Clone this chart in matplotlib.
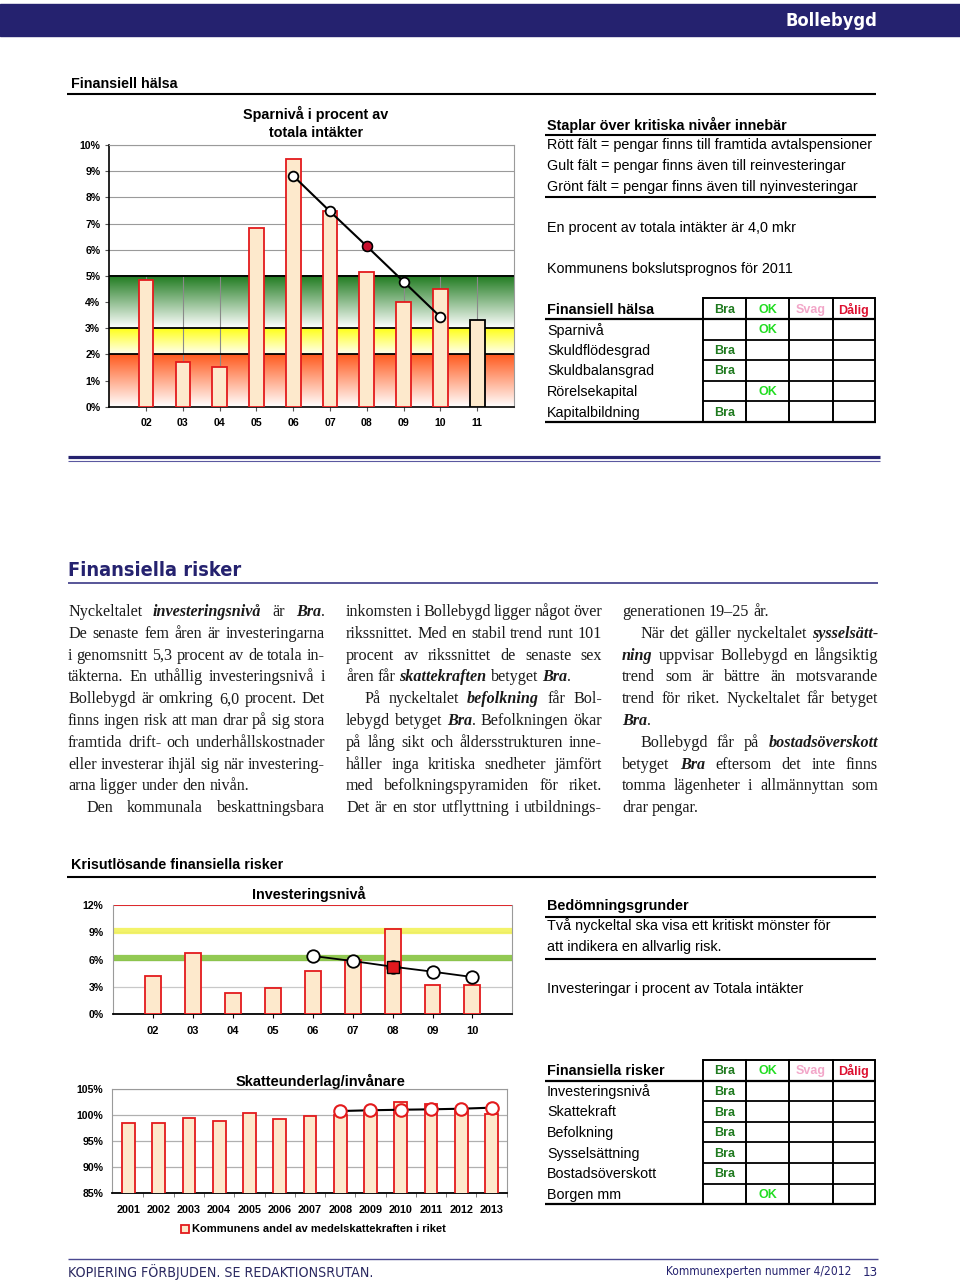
import numpy as np
import matplotlib
matplotlib.use('Agg')
import matplotlib.pyplot as plt
from matplotlib import font_manager
from matplotlib.colors import to_rgb
from matplotlib.patches import Rectangle

# Sparnivå i procent av totala intäkter
spar_years = ['02', '03', '04', '05', '06', '07', '08', '09', '10', '11']
spar_values = [4.85, 1.70, 1.53, 6.83, 9.48, 7.48, 5.14, 4.01, 4.48, 3.33]
spar_trend_years = ['06', '07', '08', '09', '10']
spar_trend = [8.82, 7.46, 6.13, 4.78, 3.43]
spar_highlight = '08'
spar_forecast = '11'
spar_levels = [0, 2, 3, 5]          # röd / gul / grön zon

# Investeringsnivå
inv_years = ['02', '03', '04', '05', '06', '07', '08', '09', '10']
inv_values = [4.18, 6.72, 2.31, 2.90, 4.77, 5.94, 9.32, 3.16, 3.16]
inv_trend_years = ['06', '07', '08', '09', '10']
inv_trend = [6.39, 5.83, 5.21, 4.66, 4.07]
inv_highlight = '08'
inv_limits = [12.0, 9.1, 6.15]     # röd, gul, grön nivå

# Skatteunderlag/invånare
skatt_years = ['2001', '2002', '2003', '2004', '2005', '2006', '2007',
               '2008', '2009', '2010', '2011', '2012', '2013']
skatt_values = [98.38, 98.40, 99.34, 98.90, 100.43, 99.20, 99.80,
                99.90, 100.30, 102.40, 102.10, 101.10, 100.20]
skatt_trend_years = ['2008', '2009', '2010', '2011', '2012', '2013']
skatt_trend = [100.75, 100.90, 101.00, 101.08, 101.20, 101.40]

# Betygstabeller
grade_labels = ['Bra', 'OK', 'Svag', 'Dålig']
grade_colors = ['#1f7a1f', '#22dd22', '#f2a6c8', '#dd1030']
halsa_items = ['Sparnivå', 'Skuldflödesgrad', 'Skuldbalansgrad', 'Rörelsekapital', 'Kapitalbildning']
halsa_grades = ['OK', 'Bra', 'Bra', 'OK', 'Bra']
risk_items = ['Investeringsnivå', 'Skattekraft', 'Befolkning', 'Sysselsättning', 'Bostadsöverskott', 'Borgen mm']
risk_grades = ['Bra', 'Bra', 'Bra', 'Bra', 'Bra', 'OK']

# Brödtext (*...* = fet kursiv, > = indrag, | = styckeslut)
col1 = [
    'Nyckeltalet *investeringsnivå* är *Bra*.',
    'De senaste fem åren är investeringarna',
    'i genomsnitt 5,3 procent av de totala in-',
    'täkterna. En uthållig investeringsnivå i',
    'Bollebygd är omkring 6,0 procent. Det',
    'finns ingen risk att man drar på sig stora',
    'framtida drift- och underhållskostnader',
    'eller investerar ihjäl sig när investering-',
    'arna ligger under den nivån.|',
    '>Den kommunala beskattningsbara',
]
col2 = [
    'inkomsten i Bollebygd ligger något över',
    'rikssnittet. Med en stabil trend runt 101',
    'procent av rikssnittet de senaste sex',
    'åren får *skattekraften* betyget *Bra*.|',
    '>På nyckeltalet *befolkning* får Bol-',
    'lebygd betyget *Bra*. Befolkningen ökar',
    'på lång sikt och åldersstrukturen inne-',
    'håller inga kritiska snedheter jämfört',
    'med befolkningspyramiden för riket.',
    'Det är en stor utflyttning i utbildnings-',
]
col3 = [
    'generationen 19–25 år.|',
    '>När det gäller nyckeltalet *sysselsätt-*',
    '*ning* uppvisar Bollebygd en långsiktig',
    'trend som är bättre än motsvarande',
    'trend för riket. Nyckeltalet får betyget',
    '*Bra*.|',
    '>Bollebygd får på *bostadsöverskott*',
    'betyget *Bra* eftersom det inte finns',
    'tomma lägenheter i allmännyttan som',
    'drar pengar.|',
]

NAVY = '#25226f'
BAR_FILL = '#fde9cc'
BAR_EDGE = '#e31a1c'
SANS = 'Liberation Sans'
SERIF = 'Liberation Serif'

# smal rubrikfont om någon finns installerad
COND = None
for f in font_manager.fontManager.ttflist:
    if 'Narrow' in f.name or 'Condensed' in f.name:
        COND = dict(family=f.name)
        break
    if f.stretch in ('condensed', 'semi-condensed', 'extra-condensed'):
        COND = dict(family=f.name, stretch=f.stretch)
        break
if COND is None:
    COND = dict(family=SANS)

fig = plt.figure(figsize=(9.6, 12.82), dpi=100)
page = fig.add_axes([0, 0, 1, 1])
page.set_xlim(0, 960)
page.set_ylim(1282, 0)
page.axis('off')
renderer = fig.canvas.get_renderer()


def px_axes(x0, y0, x1, y1):
    return fig.add_axes([x0 / 960, 1 - y1 / 1282, (x1 - x0) / 960, (y1 - y0) / 1282])


def hline(y, x0, x1, lw=1.2, color='black'):
    page.plot([x0, x1], [y, y], color=color, lw=lw, solid_capstyle='butt')


def ptext(x, y, s, size=10.4, weight='normal', color='black', ha='left', va='center', **kw):
    kw.setdefault('family', SANS)
    return page.text(x, y, s, fontsize=size, fontweight=weight, color=color, ha=ha, va=va, **kw)


def fit_text(x, y, s, width, size, ha='left', **kw):
    # krymp rubriken tills den har samma bredd som i förlagan
    t = ptext(x, y, s, size=size, ha=ha, **kw)
    w = t.get_window_extent(renderer).width
    if w > width:
        t.set_fontsize(size * width / w)
    return t


def vgrad(ax, x0, x1, y0, y1, c_bottom, c_top, z=1):
    a = np.array(to_rgb(c_bottom))
    b = np.array(to_rgb(c_top))
    t = np.linspace(0, 1, 80)[:, None]
    img = (a + (b - a) * t)[:, None, :]
    ax.imshow(img, extent=(x0, x1, y0, y1), origin='lower', aspect='auto',
              zorder=z, interpolation='bilinear')


def grade_table(top, title, items, grades):
    cols = [702.7, 746, 789, 832.7, 875]
    rh = 20.6
    n = len(items) + 1
    bottom = top + n * rh
    hline(top, cols[0], cols[-1], lw=1.4)
    hline(top + rh, 545, 876, lw=1.6)
    for i in range(2, n):
        hline(top + i * rh, cols[0], cols[-1], lw=1.3)
    hline(bottom, 545, 876, lw=1.6)
    for c in cols:
        page.plot([c, c], [top, bottom], color='black', lw=1.4)
    ptext(547, top + rh / 2 + 1, title, size=10.4, weight='bold')
    for j, g in enumerate(grade_labels):
        ptext((cols[j] + cols[j + 1]) / 2, top + rh / 2 + 1, g, size=9, weight='bold',
              color=grade_colors[j], ha='center')
    for i, (item, g) in enumerate(zip(items, grades)):
        y = top + (i + 1.5) * rh + 1
        ptext(547, y, item, size=10.3)
        j = grade_labels.index(g)
        ptext((cols[j] + cols[j + 1]) / 2, y, g, size=9, weight='bold',
              color=grade_colors[j], ha='center')


def rich_line(x0, x1, y, line, size):
    justify = not line.endswith('|')
    line = line.rstrip('|')
    if line.startswith('>'):
        x0 += 18
        line = line[1:]
    words = []
    for word in line.split():
        segs = []
        for k, part in enumerate(word.split('*')):
            if part:
                t = page.text(0, y, part, fontsize=size, family=SERIF,
                              style='italic' if k % 2 else 'normal',
                              fontweight='bold' if k % 2 else 'normal',
                              va='baseline', ha='left', color='#1a1a1a')
                segs.append((t, t.get_window_extent(renderer).width))
        words.append(segs)
    widths = [sum(w for _, w in segs) for segs in words]
    gap = size * 100 / 72 * 0.25
    if justify and len(words) > 1:
        gap = (x1 - x0 - sum(widths)) / (len(words) - 1)
    x = x0
    for segs in words:
        for t, w in segs:
            t.set_x(x)
            x += w
        x += gap


# ---------------- sidhuvud ----------------
page.add_patch(Rectangle((0, 4), 960, 32, color=NAVY, zorder=0))
fit_text(877, 21, 'Bollebygd', 92, 15, weight='bold', color='white', ha='right', **COND)

# ---------------- Finansiell hälsa ----------------
ptext(71, 84, 'Finansiell hälsa', size=10.3, weight='bold')
hline(93.5, 67, 876, lw=1.5)

ax1 = px_axes(109.3, 145, 514, 406.7)
edges = ['black' if y == spar_forecast else BAR_EDGE for y in spar_years]
ax1.bar(spar_years, spar_values, width=0.4, color=BAR_FILL, edgecolor=edges, linewidth=1.3, zorder=3)
nx = len(spar_years)
vgrad(ax1, -1, nx, spar_levels[0], spar_levels[1], '#ffffff', '#ff5a1e')
vgrad(ax1, -1, nx, spar_levels[1], spar_levels[2], '#fffff0', '#ffff10')
vgrad(ax1, -1, nx, spar_levels[2], spar_levels[3], '#ffffff', '#1e7a1e')
ax1.vlines(np.arange(nx), 0, spar_levels[-1], color='#8a8a8a', lw=0.8, zorder=1.5)
for lv in spar_levels[1:]:
    ax1.axhline(lv, color='black', lw=1.3, zorder=2)
ax1.plot(spar_trend_years, spar_trend, color='black', lw=1.5, marker='o', ms=7,
         mfc='white', mec='black', mew=1.3, zorder=5)
ax1.plot([spar_highlight], [spar_trend[spar_trend_years.index(spar_highlight)]], 'o', ms=7,
         mfc='#c8102e', mec='black', mew=1.0, zorder=6)
ax1.set_xlim(-1, nx)
ax1.set_ylim(0, 10)
ax1.set_yticks(np.arange(0, 11))
ax1.set_yticklabels([f'{v}%' for v in range(11)])
ax1.yaxis.grid(True, color='#9a9a9a', lw=0.8)
ax1.set_axisbelow(True)
ax1.tick_params(axis='y', length=3, pad=3.5, labelsize=7.6, color='#555555')
ax1.tick_params(axis='x', length=3, pad=5, labelsize=7.6, color='#555555')
for lab in ax1.get_xticklabels() + ax1.get_yticklabels():
    lab.set_fontweight('bold')
    lab.set_family(SANS)
for s in ['top', 'right']:
    ax1.spines[s].set_color('#9a9a9a')
    ax1.spines[s].set_linewidth(0.8)
for s in ['left', 'bottom']:
    ax1.spines[s].set_linewidth(1.2)
ptext(316, 114, 'Sparnivå i procent av', size=10.4, weight='bold', ha='center')
ptext(316, 133, 'totala intäkter', size=10.4, weight='bold', ha='center')

ptext(547, 125, 'Staplar över kritiska nivåer innebär', weight='bold')
hline(134.5, 545, 876, lw=1.5)
ptext(547, 145.5, 'Rött fält = pengar finns till framtida avtalspensioner')
ptext(547, 166, 'Gult fält = pengar finns även till reinvesteringar')
ptext(547, 186.5, 'Grönt fält = pengar finns även till nyinvesteringar')
hline(196.5, 545, 876, lw=1.5)
ptext(547, 228, 'En procent av totala intäkter är 4,0 mkr')
ptext(547, 268.5, 'Kommunens bokslutsprognos för 2011')
grade_table(298.3, 'Finansiell hälsa', halsa_items, halsa_grades)

# avdelare
hline(456.5, 68, 880, lw=2.3, color=NAVY)
hline(461, 68, 880, lw=0.8, color='#5a58a0')

# ---------------- Finansiella risker ----------------
fit_text(68, 570, 'Finansiella risker', 173, 17, weight='bold', color=NAVY, **COND)
hline(582.5, 68, 878, lw=1.3, color='#4a4890')

for col, (x0, x1) in zip([col1, col2, col3], [(68, 325), (346, 602), (622, 878)]):
    for i, line in enumerate(col):
        rich_line(x0, x1, 616 + 21.8 * i, line, 11.6)

# ---------------- Krisutlösande finansiella risker ----------------
ptext(71, 865, 'Krisutlösande finansiella risker', size=10.3, weight='bold')
hline(876.5, 67, 876, lw=1.5)

ax2 = px_axes(113.3, 905, 512.3, 1014)
ax2.bar(inv_years, inv_values, width=0.4, color=BAR_FILL, edgecolor=BAR_EDGE, linewidth=1.3, zorder=3)
ni = len(inv_years)
ax2.axhline(inv_limits[0], color='#e0191e', lw=1.3, zorder=2)
ax2.axhline(inv_limits[1], color='#f2f25a', lw=4.5, alpha=0.9, zorder=2)
ax2.axhline(inv_limits[2], color='#86c440', lw=4.5, alpha=0.9, zorder=2)
ax2.plot(inv_trend_years, inv_trend, color='black', lw=1.3, marker='o', ms=9,
         mfc='white', mec='black', mew=1.3, zorder=5)
ax2.plot([inv_highlight], [inv_trend[inv_trend_years.index(inv_highlight)]], 's', ms=8,
         mfc='#e0191e', mec='black', mew=1.0, zorder=6)
ax2.set_xlim(-1, ni)
ax2.set_ylim(0, 12)
ax2.set_yticks([0, 3, 6, 9, 12])
ax2.set_yticklabels(['0%', '3%', '6%', '9%', '12%'])
ax2.yaxis.grid(True, color='#c8c8c8', lw=0.9)
ax2.set_axisbelow(True)
ax2.tick_params(axis='y', length=0, pad=7, labelsize=7.6)
ax2.tick_params(axis='x', length=3, pad=6, labelsize=8)
for lab in ax2.get_xticklabels() + ax2.get_yticklabels():
    lab.set_fontweight('bold')
    lab.set_family(SANS)
ax2.spines['top'].set_visible(False)
for s in ['left', 'right']:
    ax2.spines[s].set_color('#9a9a9a')
    ax2.spines[s].set_linewidth(0.8)
ax2.spines['bottom'].set_linewidth(1.3)
ptext(309, 894, 'Investeringsnivå', size=10.4, weight='bold', ha='center')

ax3 = px_axes(111.7, 1089, 506.7, 1192.7)
ns = len(skatt_years)
ax3.bar(skatt_years, skatt_values, width=0.42, color=BAR_FILL, edgecolor=BAR_EDGE, linewidth=1.3, zorder=3)
ax3.plot(skatt_trend_years, skatt_trend, color='black', lw=1.5, marker='o', ms=9,
         mfc='white', mec=BAR_EDGE, mew=1.5, zorder=5)
ax3.set_xlim(-0.55, ns - 0.5)
ax3.set_ylim(85, 105)
ax3.set_yticks([85, 90, 95, 100, 105])
ax3.set_yticklabels(['85%', '90%', '95%', '100%', '105%'])
ax3.yaxis.grid(True, color='#b0b0b0', lw=0.9)
ax3.set_axisbelow(True)
ax3.set_xticks(np.arange(ns) + 0.5, minor=True)
ax3.tick_params(axis='x', which='major', length=0, pad=9, labelsize=7.8)
ax3.tick_params(axis='x', which='minor', length=3, color='#666666')
ax3.tick_params(axis='y', length=0, pad=6, labelsize=7.6)
for lab in ax3.get_xticklabels() + ax3.get_yticklabels():
    lab.set_fontweight('bold')
    lab.set_family(SANS)
for s in ['left', 'right', 'top']:
    ax3.spines[s].set_color('#9a9a9a')
    ax3.spines[s].set_linewidth(0.8)
ax3.spines['bottom'].set_linewidth(1.3)
ptext(321, 1081, 'Skatteunderlag/invånare', size=10.5, weight='bold', ha='center')
page.add_patch(Rectangle((181, 1224.5), 8, 8, facecolor=BAR_FILL, edgecolor=BAR_EDGE, lw=1.3))
ptext(192, 1229, 'Kommunens andel av medelskattekraften i riket', size=8, weight='bold')

ptext(547, 906, 'Bedömningsgrunder', weight='bold')
hline(916.5, 545, 876, lw=1.5)
ptext(547, 926, 'Två nyckeltal ska visa ett kritiskt mönster för')
ptext(547, 947, 'att indikera en allvarlig risk.')
hline(958.5, 545, 876, lw=1.5)
ptext(547, 989, 'Investeringar i procent av Totala intäkter')
grade_table(1060, 'Finansiella risker', risk_items, risk_grades)

# ---------------- sidfot ----------------
hline(1258.5, 68, 878, lw=1.0, color='#4a4890')
fit_text(68, 1272, 'KOPIERING FÖRBJUDEN. SE REDAKTIONSRUTAN.', 304, 10.2, color='#2a2860', **COND)
fit_text(851, 1272, 'Kommunexperten nummer 4/2012', 186, 8.6, color=NAVY, ha='right', **COND)
ptext(878, 1272, '13', size=9.5, color=NAVY, ha='right', **COND)

fig.savefig('out.png', dpi=100)
